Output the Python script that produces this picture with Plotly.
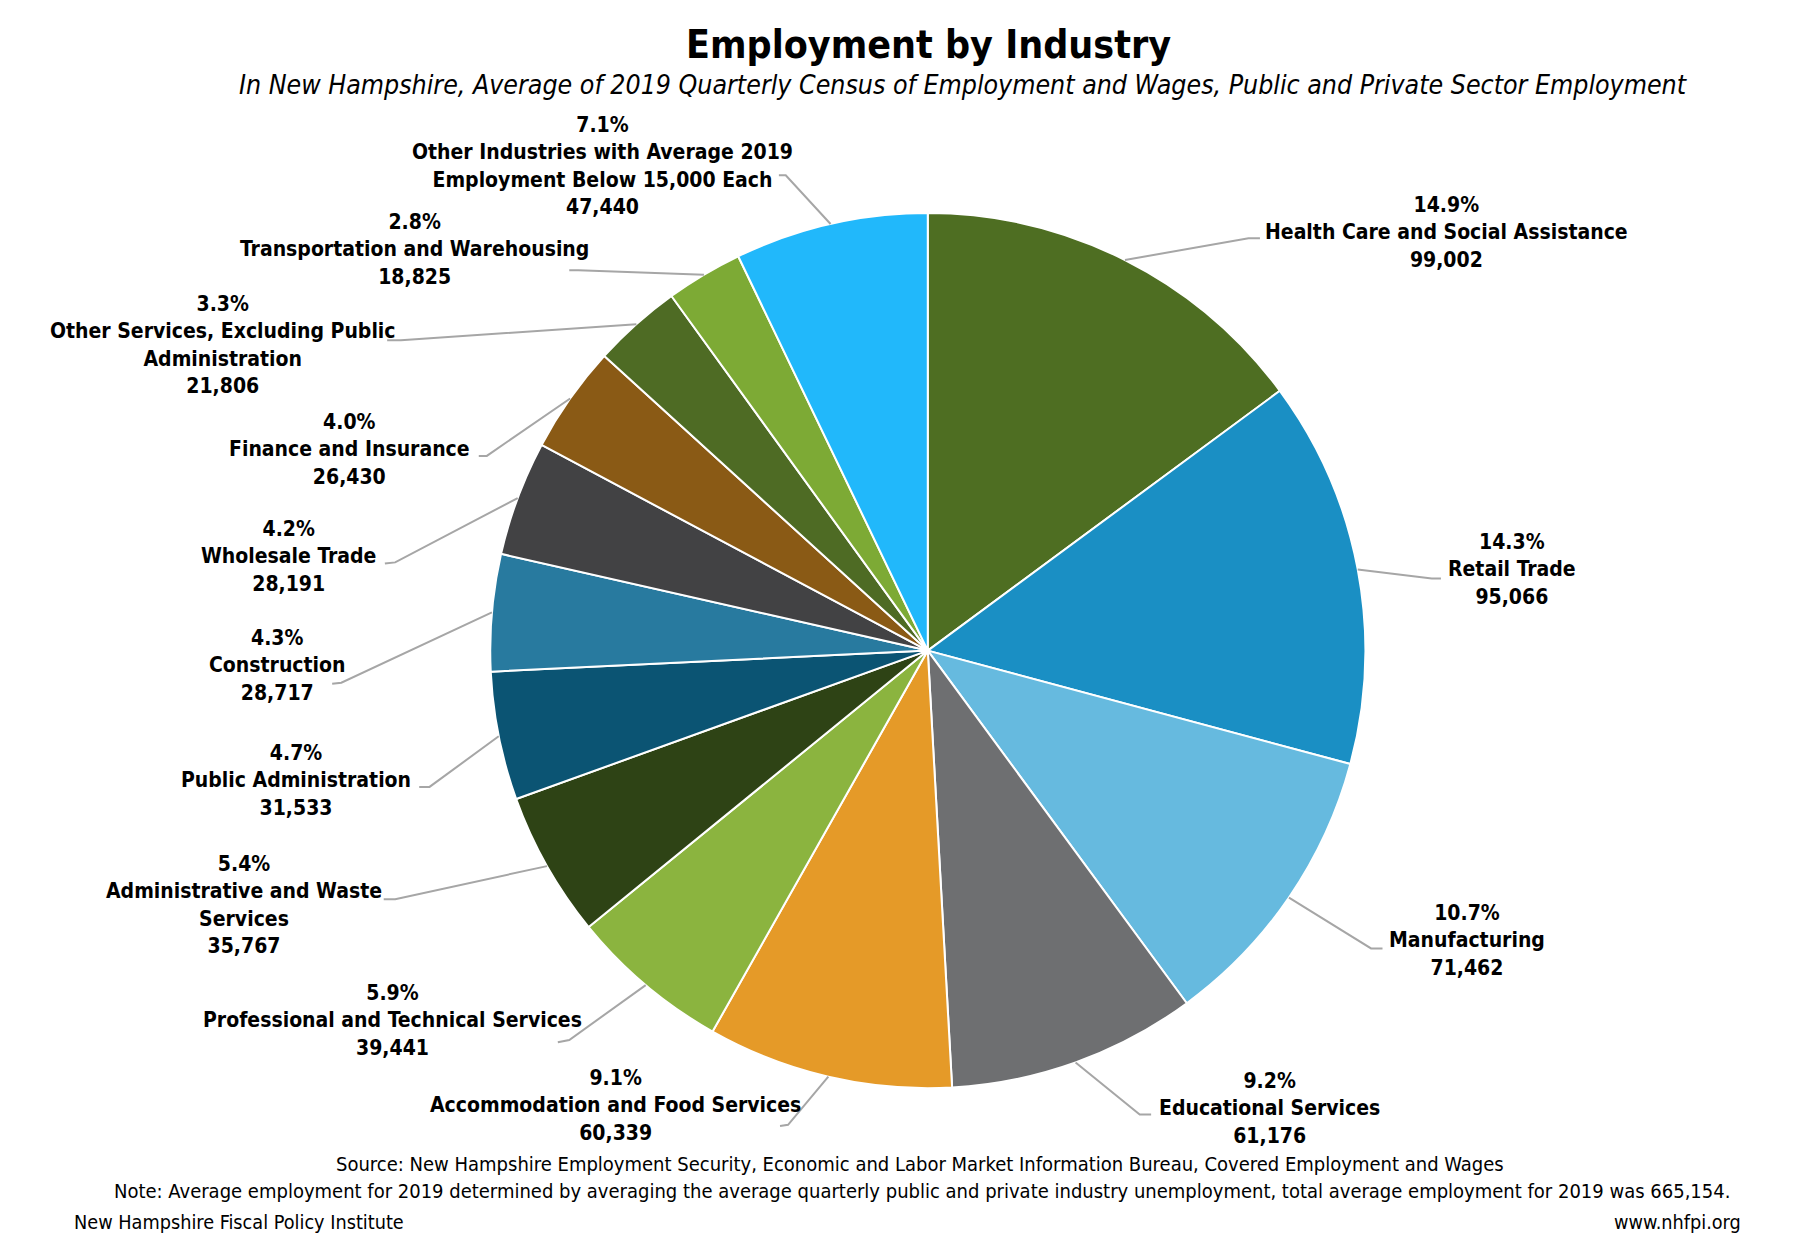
import math
import plotly.graph_objects as go

# ---------------- data ----------------
categories = [
    "Health Care and Social Assistance",
    "Retail Trade",
    "Manufacturing",
    "Educational Services",
    "Accommodation and Food Services",
    "Professional and Technical Services",
    "Administrative and Waste<br>Services",
    "Public Administration",
    "Construction",
    "Wholesale Trade",
    "Finance and Insurance",
    "Other Services, Excluding Public<br>Administration",
    "Transportation and Warehousing",
    "Other Industries with Average 2019<br>Employment Below 15,000 Each",
]
employment = [99002, 95066, 71462, 61176, 60339, 39441, 35767, 31533,
              28717, 28191, 26430, 21806, 18825, 47440]
colors = ["#4E6E22", "#1A8FC4", "#66BADF", "#6E6F71", "#E59A28", "#8BB43F",
          "#2E4315", "#0B5473", "#287A9F", "#424244", "#8A5A15", "#4E6B24",
          "#7DAA35", "#21B8FB"]

# ---------------- layout helpers (positions in reference px, 1568-wide scale) ----------------
W, H = 1796, 1252
S = W / 1568.0
CX, CY, R = 810 * S, 568 * S, 382 * S   # pie centre / radius in px

# label block centres (x, y) and leader-line elbow / end points
label_pos = [(1263, 203), (1320, 497), (1281, 821), (1108, 968), (537, 965),
             (343, 891), (213, 790), (258, 681), (242, 581), (252, 486),
             (305, 392), (195, 301), (362, 218), (526, 145)]
leader_pts = [
    [(1090, 208), (1100, 208)],
    [(1250, 505), (1258, 505)],
    [(1197, 828), (1207, 828)],
    [(995, 973), (1005, 973)],
    [(688, 982), (681, 983)],
    [(497, 908), (487, 910)],
    [(345, 785), (335, 785)],
    [(375, 687), (366, 687)],
    [(298, 596), (290, 597)],
    [(345, 491), (336, 492)],
    [(425, 398), (418, 398)],
    [(350, 297), (338, 297)],
    [(505, 236), (497, 236)],
    [(686, 153), (680, 153)],
]

FONT = "DejaVu Sans Condensed, Liberation Sans Narrow, DejaVu Sans, sans-serif"

def px(x, y):
    return x / W, 1 - y / H

fig = go.Figure()
fig.add_trace(go.Pie(
    labels=[c.replace("<br>", " ") for c in categories],
    values=employment,
    sort=False,
    direction="clockwise",
    rotation=0,
    textinfo="none",
    hoverinfo="label+value+percent",
    marker=dict(colors=colors, line=dict(color="white", width=2)),
    domain=dict(x=[(CX - R) / W, (CX + R) / W],
                y=[1 - (CY + R) / H, 1 - (CY - R) / H]),
    showlegend=False,
))

total = sum(employment)
cum = 0.0
shapes = []
annotations = []
for i, v in enumerate(employment):
    mid = (cum + v / 2) / total
    cum += v
    ang = 2 * math.pi * mid
    sx, sy = CX + R * math.sin(ang), CY - R * math.cos(ang)
    pts = [(sx, sy)] + [(x * S, y * S) for x, y in leader_pts[i]]
    path = "M " + " L ".join(f"{p[0] / W:.5f},{1 - p[1] / H:.5f}" for p in pts)
    shapes.append(dict(type="path", xref="paper", yref="paper", path=path,
                       line=dict(color="#A6A6A6", width=2)))
    lx, ly = label_pos[i]
    ax, ay = px(lx * S, ly * S)
    pct = 100.0 * v / total
    annotations.append(dict(
        x=ax, y=ay, xref="paper", yref="paper", xanchor="center", yanchor="middle",
        showarrow=False, align="center",
        text=f"<b>{pct:.1f}%<br>{categories[i]}<br>{v:,}</b>",
        font=dict(family=FONT, size=21, color="black"),
    ))

annotations += [
    dict(x=px(928, 44)[0], y=px(928, 44)[1], xref="paper", yref="paper",
         text="<b>Employment by Industry</b>", showarrow=False,
         xanchor="center", yanchor="middle",
         font=dict(family=FONT, size=39, color="black")),
    dict(x=px(963, 85)[0], y=px(963, 85)[1], xref="paper", yref="paper",
         text="<i>In New Hampshire, Average of 2019 Quarterly Census of Employment and Wages, Public and Private Sector Employment</i>",
         showarrow=False, xanchor="center", yanchor="middle",
         font=dict(family=FONT, size=26.5, color="black")),
    dict(x=px(920, 1164)[0], y=px(920, 1164)[1], xref="paper", yref="paper",
         text="Source: New Hampshire Employment Security, Economic and Labor Market Information Bureau, Covered Employment and Wages",
         showarrow=False, xanchor="center", yanchor="middle",
         font=dict(family=FONT, size=20, color="black")),
    dict(x=px(1732, 1191)[0], y=px(1732, 1191)[1], xref="paper", yref="paper",
         text="Note: Average employment for 2019 determined by averaging the average quarterly public and private industry unemployment, total average employment for 2019 was 665,154.",
         showarrow=False, xanchor="right", yanchor="middle",
         font=dict(family=FONT, size=20, color="black")),
    dict(x=px(72, 1222)[0], y=px(72, 1222)[1], xref="paper", yref="paper",
         text="New Hampshire Fiscal Policy Institute", showarrow=False,
         xanchor="left", yanchor="middle",
         font=dict(family=FONT, size=19.7, color="black")),
    dict(x=px(1743, 1222)[0], y=px(1743, 1222)[1], xref="paper", yref="paper",
         text="www.nhfpi.org", showarrow=False,
         xanchor="right", yanchor="middle",
         font=dict(family=FONT, size=19.7, color="black")),
]

fig.update_layout(
    width=W, height=H,
    margin=dict(l=0, r=0, t=0, b=0),
    paper_bgcolor="white", plot_bgcolor="white",
    shapes=shapes, annotations=annotations,
)

fig.write_html("out.html", config={"displayModeBar": False},
               post_script="document.body.style.margin='0';document.body.style.overflow='hidden';")
